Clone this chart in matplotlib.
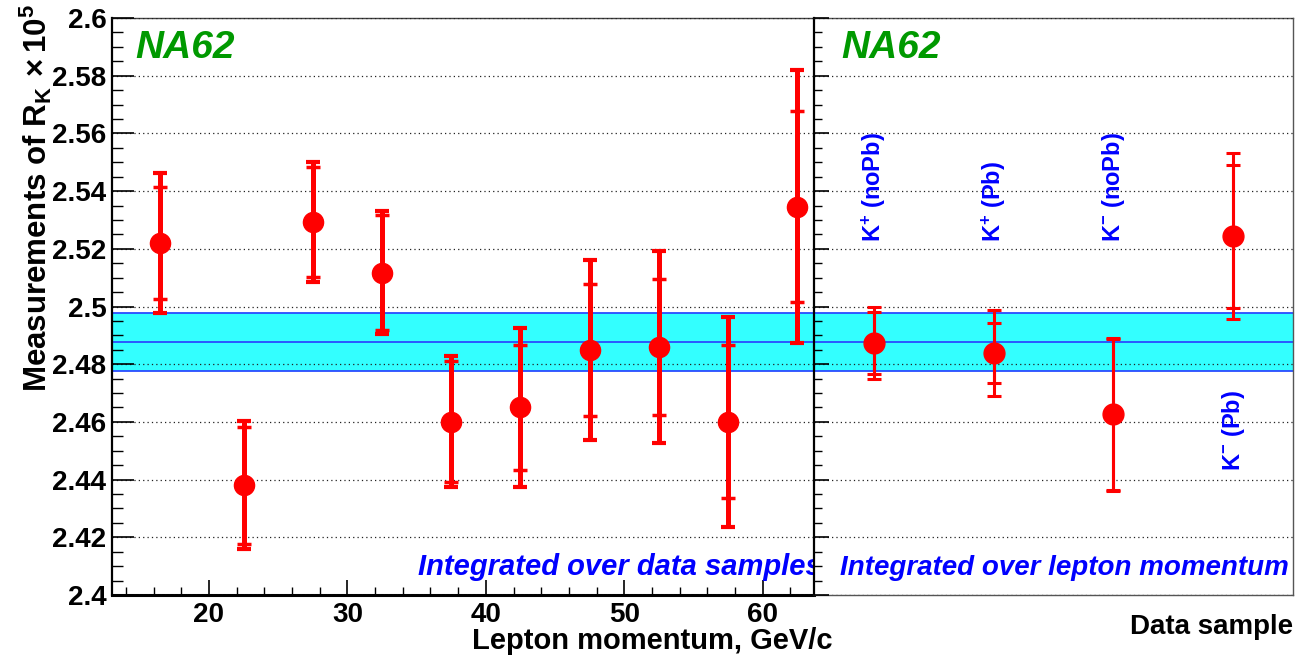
import numpy as np
import matplotlib
matplotlib.use("Agg")
import matplotlib.pyplot as plt
from matplotlib.ticker import MultipleLocator

plt.rcParams['font.family'] = ['Liberation Sans', 'DejaVu Sans']
plt.rcParams['font.weight'] = 'bold'
plt.rcParams['mathtext.fontset'] = 'custom'
plt.rcParams['mathtext.rm'] = 'Liberation Sans:bold'
plt.rcParams['mathtext.bf'] = 'Liberation Sans:bold'
plt.rcParams['mathtext.it'] = 'Liberation Sans:bold'
plt.rcParams['mathtext.default'] = 'bf'

# RK measurements vs lepton momentum (integrated over data samples)
p_mid = [16.5, 22.5, 27.5, 32.5, 37.5, 42.5, 47.5, 52.5, 57.5, 62.5]
rk_p = [2.5221, 2.4381, 2.5294, 2.5117, 2.4601, 2.4650, 2.4849, 2.4861, 2.4601, 2.5346]
stat_p = [0.0194, 0.0203, 0.0191, 0.0200, 0.0210, 0.0215, 0.0230, 0.0236, 0.0264, 0.0332]
tot_p = [0.0243, 0.0222, 0.0208, 0.0214, 0.0226, 0.0276, 0.0311, 0.0333, 0.0364, 0.0474]

# RK measurements vs data sample (integrated over lepton momentum)
samples = ['K$^{+}$ (noPb)', 'K$^{+}$ (Pb)', 'K$^{-}$ (noPb)', 'K$^{-}$ (Pb)']
rk_s = [2.4873, 2.4839, 2.4626, 2.5244]
stat_s = [0.0107, 0.0105, 0.0262, 0.0248]
tot_s = [0.0125, 0.0150, 0.0265, 0.0287]
label_y = [2.5224, 2.5224, 2.5224, 2.4431]

# combined result band
rk_mean = 2.4878
rk_err = 0.0101

W, H = 1312, 657
fig = plt.figure(figsize=(W / 100, H / 100), dpi=100)

x_left, x_mid, x_right = 112, 814, 1293
y_top, y_bot = 18, 595
ax1 = fig.add_axes([x_left / W, 1 - y_bot / H, (x_mid - x_left) / W, (y_bot - y_top) / H])
ax2 = fig.add_axes([x_mid / W, 1 - y_bot / H, (x_right - x_mid) / W, (y_bot - y_top) / H])

red = '#ff0000'
blue = '#0000ff'
green = '#009900'
band_c = '#33ffff'
band_line = '#2a4cff'

for ax in (ax1, ax2):
    ax.set_ylim(2.4, 2.6)
    ax.axhspan(rk_mean - rk_err, rk_mean + rk_err, color=band_c, zorder=1, lw=0)
    for yy in (rk_mean - rk_err, rk_mean, rk_mean + rk_err):
        ax.axhline(yy, color=band_line, lw=1.3, zorder=2)
    ax.yaxis.set_major_locator(MultipleLocator(0.02))
    ax.yaxis.set_minor_locator(MultipleLocator(0.005))
    ax.grid(axis='y', which='major', linestyle=(0, (1, 2.5)), color='#222222', lw=0.9, zorder=1.5)
    ax.set_axisbelow(False)

# left panel
ax1.set_xlim(13, 63.7)
ax1.xaxis.set_major_locator(MultipleLocator(10))
ax1.xaxis.set_minor_locator(MultipleLocator(2))
ax1.errorbar(p_mid, rk_p, yerr=tot_p, fmt='none', ecolor=red, elinewidth=3.6,
             capsize=5, capthick=3, zorder=3)
ax1.errorbar(p_mid, rk_p, yerr=stat_p, fmt='o', color=red, ms=14.5, elinewidth=3.6,
             capsize=5, capthick=2.5, zorder=4)
ax1.tick_params(axis='y', which='major', direction='in', length=16, width=1.2,
                labelsize=20, pad=4)
ax1.tick_params(axis='y', which='minor', direction='in', length=8, width=1.0)
ax1.tick_params(axis='x', which='major', direction='in', length=11, width=1.2,
                labelsize=20, pad=5)
ax1.tick_params(axis='x', which='minor', direction='in', length=5.5, width=1.0)
ax1.spines['right'].set_visible(False)
ax1.spines['top'].set_color('#444444')
ax1.spines['top'].set_linewidth(1.0)
ax1.spines['bottom'].set_linewidth(2.2)
ax1.spines['left'].set_linewidth(1.6)
ax1.set_yticks([2.4, 2.42, 2.44, 2.46, 2.48, 2.5, 2.52, 2.54, 2.56, 2.58, 2.6])
ax1.set_yticklabels(['2.4', '2.42', '2.44', '2.46', '2.48', '2.5', '2.52', '2.54',
                     '2.56', '2.58', '2.6'])

ax1.text(0.033, 0.931, 'NA62', transform=ax1.transAxes, color=green, fontsize=28,
         fontweight='bold', fontstyle='italic', va='baseline')
ax1.text(0.436, 0.035, 'Integrated over data samples', transform=ax1.transAxes,
         color=blue, fontsize=21, fontweight='bold', fontstyle='italic',
         va='baseline', clip_on=True)

# right panel
xs = np.arange(len(samples)) + 0.5
ax2.set_xlim(0, len(samples))
ax2.set_xticks([])
ax2.errorbar(xs, rk_s, yerr=tot_s, fmt='none', ecolor=red, elinewidth=2.2,
             capsize=5, capthick=2.2, zorder=3)
ax2.errorbar(xs, rk_s, yerr=stat_s, fmt='o', color=red, ms=15, elinewidth=2.2,
             capsize=5, capthick=2.2, zorder=4)
ax2.tick_params(axis='y', which='major', direction='in', length=11, width=1.2,
                labelleft=False)
ax2.tick_params(axis='y', which='minor', direction='in', length=5.5, width=1.0)
for s in ('top', 'right', 'bottom'):
    ax2.spines[s].set_color('#555555')
    ax2.spines[s].set_linewidth(1.0)
ax2.spines['left'].set_linewidth(1.6)

for xx, yy, lab in zip(xs, label_y, samples):
    ax2.text(xx, yy, lab, rotation=90, color=blue, fontsize=17, fontweight='bold',
             ha='center', va='bottom')

ax2.text(0.054, 0.035, 'Integrated over lepton momentum', transform=ax2.transAxes,
         color=blue, fontsize=20, fontweight='bold', fontstyle='italic', va='baseline')
ax2.text(0.058, 0.931, 'NA62', transform=ax2.transAxes, color=green, fontsize=28,
         fontweight='bold', fontstyle='italic', va='baseline')

# axis titles
fig.text(36 / W, 1 - 4 / H, r'Measurements of R$_{K}\,\times$10$^{5}$', rotation=90,
         fontsize=22.5, fontweight='bold', ha='center', va='top')
fig.text(832 / W, 1 - 649 / H, 'Lepton momentum, GeV/c', fontsize=21,
         fontweight='bold', ha='right', va='baseline')
fig.text(1293 / W, 1 - 634 / H, 'Data sample', fontsize=20, fontweight='bold',
         ha='right', va='baseline')

fig.savefig('out.png', dpi=100)
